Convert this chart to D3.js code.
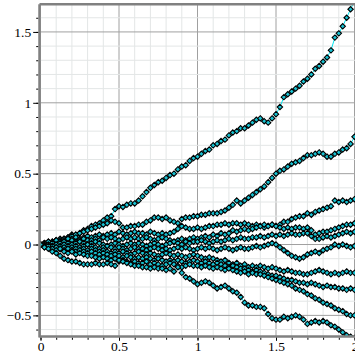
<!DOCTYPE html>
<html>
<head>
<meta charset="utf-8">
<script src="https://cdn.jsdelivr.net/npm/d3@7"></script>
<style>
	html, body { margin: 0; padding: 0; background: white; }
	svg { display: block; }
</style>
</head>
<body>
<svg id="chart"></svg>
<script>
const width = 355;
const height = 355;

// sample grid: 81 points, step 0.025 from 0 to 2
const tStep = 0.025;
const xTicks = [0, 0.5, 1, 1.5, 2];
const yTicks = [-0.5, 0, 0.5, 1, 1.5];

// series values, one array per path
const seriesA = [0, 0.01, 0.02, 0.015, 0.03, 0.04, 0.035, 0.05, 0.07, 0.065, 0.08, 0.10, 0.11, 0.13,
	0.14, 0.15, 0.17, 0.19, 0.2, 0.25, 0.27, 0.265, 0.28, 0.29, 0.29, 0.31, 0.34,
	0.37, 0.40, 0.42, 0.44, 0.45, 0.47, 0.49, 0.50, 0.53, 0.55, 0.56, 0.59, 0.61, 0.62,
	0.64, 0.66, 0.67, 0.70, 0.71, 0.73, 0.74, 0.77, 0.79, 0.80, 0.82, 0.82, 0.84,
	0.86, 0.88, 0.89, 0.87, 0.86, 0.89, 0.92, 0.97, 1.04, 1.06, 1.08, 1.10, 1.12,
	1.15, 1.17, 1.20, 1.24, 1.26, 1.29, 1.32, 1.37, 1.46, 1.49, 1.54, 1.60, 1.66, 1.72];
const seriesB = [0, 0.01, 0.0, 0.02, 0.03, 0.025, 0.04, 0.05, 0.06, 0.07, 0.08, 0.09, 0.10, 0.11,
	0.12, 0.13, 0.14, 0.15, 0.17, 0.16, 0.15, 0.12, 0.12, 0.13, 0.13, 0.14, 0.14,
	0.16, 0.17, 0.19, 0.19, 0.18, 0.19, 0.17, 0.16, 0.15, 0.18, 0.19, 0.19, 0.2, 0.2,
	0.21, 0.21, 0.22, 0.22, 0.22, 0.23, 0.24, 0.26, 0.28, 0.31, 0.29, 0.31, 0.33,
	0.35, 0.37, 0.39, 0.41, 0.44, 0.47, 0.50, 0.52, 0.53, 0.55, 0.57, 0.58, 0.59,
	0.61, 0.63, 0.63, 0.64, 0.65, 0.64, 0.62, 0.62, 0.64, 0.65, 0.67, 0.68, 0.71, 0.76];
const seriesC = [0, -0.01, 0.01, 0.02, 0.01, 0.03, 0.04, 0.03, 0.04, 0.05, 0.04, 0.05, 0.06, 0.05,
	0.06, 0.07, 0.06, 0.07, 0.08, 0.07, 0.09, 0.08, 0.07, 0.08, 0.09, 0.08, 0.08,
	0.07, 0.09, 0.08, 0.07, 0.08, 0.07, 0.08, 0.09, 0.11, 0.13, 0.12, 0.11, 0.11, 0.12,
	0.11, 0.12, 0.13, 0.13, 0.14, 0.14, 0.15, 0.14, 0.15, 0.15, 0.14, 0.15, 0.14,
	0.13, 0.14, 0.13, 0.12, 0.13, 0.14, 0.13, 0.14, 0.16, 0.16, 0.18, 0.19, 0.20,
	0.20, 0.22, 0.21, 0.23, 0.24, 0.25, 0.26, 0.27, 0.31, 0.30, 0.31, 0.30, 0.31, 0.32];
const seriesD = [0, 0.01, 0.02, 0.01, 0.03, 0.02, 0.03, 0.04, 0.03, 0.02, 0.03, 0.04, 0.03, 0.03,
	0.04, 0.03, 0.05, 0.04, 0.05, 0.04, 0.03, 0.04, 0.05, 0.04, 0.05, 0.04, 0.04,
	0.05, 0.04, 0.03, 0.04, 0.05, 0.04, 0.03, 0.02, 0.03, 0.04, 0.03, 0.04, 0.05, 0.04,
	0.05, 0.06, 0.05, 0.07, 0.06, 0.08, 0.07, 0.08, 0.10, 0.09, 0.10, 0.11, 0.10,
	0.11, 0.12, 0.13, 0.14, 0.13, 0.14, 0.13, 0.12, 0.11, 0.12, 0.11, 0.12, 0.12,
	0.11, 0.12, 0.10, 0.07, 0.08, 0.09, 0.09, 0.10, 0.11, 0.12, 0.13, 0.14, 0.14, 0.15];
const seriesE = [0, 0.0, -0.01, 0.01, 0.0, 0.01, 0.02, 0.01, 0.0, 0.01, 0.02, 0.01, 0.0, 0.01,
	0.02, 0.01, 0.0, -0.01, 0.0, 0.01, 0.0, -0.01, 0.0, 0.01, 0.0, 0.01, 0.0,
	-0.01, 0.0, 0.01, 0.0, -0.01, 0.0, 0.01, 0.02, 0.01, 0.0, 0.02, 0.01, 0.02, 0.02,
	0.03, 0.02, 0.01, 0.02, 0.03, 0.02, 0.03, 0.04, 0.03, 0.04, 0.05, 0.04, 0.04,
	0.05, 0.05, 0.06, 0.05, 0.06, 0.07, 0.06, 0.07, 0.06, 0.07, 0.08, 0.07, 0.07,
	0.08, 0.08, 0.06, 0.04, 0.04, 0.05, 0.06, 0.05, 0.06, 0.07, 0.08, 0.09, 0.08, 0.09];
const seriesF = [0, -0.01, 0.0, -0.01, -0.02, -0.01, 0.0, -0.01, -0.02, -0.01, -0.02, -0.01, 0.0, -0.01,
	-0.02, -0.03, -0.02, -0.01, -0.02, -0.03, -0.02, -0.03, -0.04, -0.03, -0.02, -0.03, -0.03,
	-0.04, -0.03, -0.02, -0.03, -0.04, -0.03, -0.04, -0.03, -0.02, -0.03, -0.02, -0.03, -0.04, -0.03,
	-0.02, -0.03, -0.02, -0.03, -0.04, -0.03, -0.02, -0.03, -0.04, -0.03, -0.02, -0.03, -0.03,
	-0.02, -0.01, -0.02, -0.01, 0.0, 0.01, 0.0, -0.02, -0.04, -0.06, -0.08, -0.09, -0.10,
	-0.09, -0.07, -0.06, -0.05, -0.06, -0.04, -0.03, -0.02, 0.0, -0.01, 0.0, -0.01, -0.02, -0.01];
const seriesG = [0, -0.01, -0.02, -0.01, -0.02, -0.03, -0.02, -0.03, -0.04, -0.03, -0.04, -0.03, -0.04, -0.03,
	-0.04, -0.05, -0.04, -0.05, -0.06, -0.05, -0.06, -0.05, -0.06, -0.07, -0.06, -0.05, -0.06,
	-0.07, -0.06, -0.07, -0.08, -0.07, -0.06, -0.07, -0.08, -0.07, -0.08, -0.09, -0.08, -0.07, -0.08,
	-0.09, -0.10, -0.09, -0.10, -0.11, -0.12, -0.11, -0.13, -0.14, -0.13, -0.15, -0.14, -0.16,
	-0.15, -0.16, -0.15, -0.16, -0.17, -0.16, -0.17, -0.18, -0.19, -0.18, -0.19, -0.20, -0.20,
	-0.21, -0.21, -0.20, -0.19, -0.18, -0.19, -0.20, -0.21, -0.20, -0.21, -0.20, -0.19, -0.20, -0.20];
const seriesH = [0, -0.01, -0.02, -0.03, -0.02, -0.03, -0.04, -0.03, -0.04, -0.05, -0.04, -0.05, -0.06, -0.05,
	-0.06, -0.07, -0.06, -0.07, -0.08, -0.07, -0.08, -0.09, -0.08, -0.09, -0.10, -0.09, -0.10,
	-0.09, -0.10, -0.11, -0.10, -0.11, -0.12, -0.11, -0.12, -0.11, -0.12, -0.13, -0.12, -0.11, -0.12,
	-0.13, -0.12, -0.13, -0.14, -0.13, -0.14, -0.15, -0.16, -0.15, -0.16, -0.17, -0.17, -0.18,
	-0.19, -0.18, -0.19, -0.20, -0.21, -0.22, -0.22, -0.23, -0.24, -0.25, -0.25, -0.26, -0.27,
	-0.27, -0.28, -0.27, -0.28, -0.29, -0.30, -0.29, -0.30, -0.30, -0.31, -0.31, -0.32, -0.31, -0.32];
const seriesI = [0, -0.02, -0.01, -0.03, -0.04, -0.03, -0.05, -0.06, -0.05, -0.07, -0.06, -0.07, -0.08, -0.08,
	-0.09, -0.10, -0.09, -0.10, -0.11, -0.10, -0.12, -0.11, -0.12, -0.13, -0.12, -0.13, -0.13,
	-0.12, -0.14, -0.13, -0.14, -0.15, -0.14, -0.13, -0.14, -0.15, -0.16, -0.15, -0.14, -0.15, -0.15,
	-0.16, -0.15, -0.16, -0.17, -0.16, -0.17, -0.18, -0.17, -0.18, -0.19, -0.20, -0.19, -0.21,
	-0.20, -0.21, -0.21, -0.22, -0.23, -0.24, -0.25, -0.26, -0.27, -0.28, -0.29, -0.31, -0.32,
	-0.33, -0.35, -0.36, -0.38, -0.39, -0.41, -0.42, -0.43, -0.45, -0.46, -0.47, -0.49, -0.50, -0.50];
const seriesJ = [0, -0.02, -0.03, -0.05, -0.06, -0.08, -0.10, -0.11, -0.12, -0.12, -0.13, -0.14, -0.14, -0.14,
	-0.13, -0.14, -0.14, -0.13, -0.14, -0.15, -0.11, -0.12, -0.13, -0.14, -0.15, -0.15, -0.16,
	-0.16, -0.17, -0.16, -0.17, -0.17, -0.18, -0.17, -0.19, -0.16, -0.20, -0.23, -0.24, -0.26, -0.28,
	-0.27, -0.26, -0.27, -0.29, -0.31, -0.30, -0.29, -0.31, -0.33, -0.34, -0.37, -0.41, -0.43,
	-0.43, -0.44, -0.44, -0.45, -0.49, -0.52, -0.53, -0.53, -0.51, -0.52, -0.51, -0.50, -0.51,
	-0.53, -0.56, -0.55, -0.54, -0.55, -0.54, -0.55, -0.57, -0.58, -0.60, -0.62, -0.64, -0.65, -0.66];

const allSeries = [seriesA, seriesB, seriesC, seriesD, seriesE, seriesF, seriesG, seriesH, seriesI, seriesJ];

const plotLeft = 40.5, plotRight = 354.5, plotTop = 4.3, plotBottom = 336.5;

const x = d3.scaleLinear().domain([0, 2]).range([plotLeft, plotRight]);
const y = d3.scaleLinear().domain([-0.649, 1.695]).range([plotBottom, plotTop]);

const svg = d3.select("#chart").attr("width", width).attr("height", height);

svg.append("defs")
	.append("clipPath")
	.attr("id", "plotClip")
	.append("rect")
	.attr("x", plotLeft)
	.attr("y", plotTop)
	.attr("width", plotRight - plotLeft + 5)
	.attr("height", plotBottom - plotTop);

// grid
const grid = svg.append("g");
const minorX = d3.range(0, 21).map((i) => i / 10);
const minorY = d3.range(-6, 17).map((i) => i / 10);
const isMajor = (d) => Math.abs(d * 2 - Math.round(d * 2)) < 1e-6;

grid.selectAll("line.mx")
	.data(minorX)
	.enter()
	.append("line")
	.attr("x1", (d) => x(d))
	.attr("x2", (d) => x(d))
	.attr("y1", plotTop)
	.attr("y2", plotBottom)
	.attr("stroke", (d) => (isMajor(d) ? "#a0a0a0" : "#e3e6e6"))
	.attr("stroke-width", 1);

grid.selectAll("line.my")
	.data(minorY)
	.enter()
	.append("line")
	.attr("x1", plotLeft)
	.attr("x2", plotRight + 5)
	.attr("y1", (d) => y(d))
	.attr("y2", (d) => y(d))
	.attr("stroke", (d) => (isMajor(d) ? "#a0a0a0" : "#e3e6e6"))
	.attr("stroke-width", 1);

// series
const plot = svg.append("g").attr("clip-path", "url(#plotClip)");
const line = d3.line()
	.x((d, i) => x(i * tStep))
	.y((d) => y(d));

plot.selectAll("path.walk")
	.data(allSeries)
	.enter()
	.append("path")
	.attr("class", "walk")
	.attr("d", line)
	.attr("fill", "none")
	.attr("stroke", "#00e4ee")
	.attr("stroke-width", 1);

const diamond = "M0,-2.7L2.7,0L0,2.7L-2.7,0Z";

allSeries.forEach((s) => {
	plot.append("g")
		.selectAll("path")
		.data(s)
		.enter()
		.append("path")
		.attr("d", diamond)
		.attr("transform", (d, i) => "translate(" + x(i * tStep) + "," + y(d) + ")")
		.attr("fill", "#18c2d2")
		.attr("stroke", "#000")
		.attr("stroke-width", 1.1);
});

// frame
const frame = svg.append("g").attr("stroke", "#808080").attr("stroke-width", 2.5).attr("fill", "none");
frame.append("line").attr("x1", plotLeft - 1).attr("x2", width).attr("y1", plotTop).attr("y2", plotTop);
frame.append("line").attr("x1", plotLeft - 1).attr("x2", width).attr("y1", plotBottom).attr("y2", plotBottom);
frame.append("line").attr("x1", plotLeft - 1).attr("x2", plotLeft - 1).attr("y1", plotTop).attr("y2", plotBottom + 1);

// ticks
const fmt = (d) => (d < 0 ? "\u2212" + Math.abs(d) : String(d));

const yAxis = d3.axisLeft(y)
	.tickValues(minorY.filter((d) => d >= -0.6))
	.tickSize(2)
	.tickFormat("");
svg.append("g")
	.attr("transform", "translate(" + (plotLeft - 2.3) + ",0)")
	.call(yAxis)
	.call((g) => g.select(".domain").remove())
	.call((g) => g.selectAll(".tick line").attr("stroke", "#000"));

const yMajor = d3.axisLeft(y).tickValues(yTicks).tickSize(5).tickFormat(fmt).tickPadding(2);
svg.append("g")
	.attr("transform", "translate(" + (plotLeft - 2.3) + ",0)")
	.call(yMajor)
	.call((g) => g.select(".domain").remove())
	.call((g) => g.selectAll(".tick line").attr("stroke", "#000"))
	.call((g) => g.selectAll("text")
		.attr("font-family", "'Liberation Serif', serif")
		.attr("font-size", 13.5)
		.attr("fill", "#000"));

const xAxis = d3.axisBottom(x)
	.tickValues(minorX)
	.tickSize(2)
	.tickFormat("");
svg.append("g")
	.attr("transform", "translate(0," + (plotBottom + 1.3) + ")")
	.call(xAxis)
	.call((g) => g.select(".domain").remove())
	.call((g) => g.selectAll(".tick line").attr("stroke", "#000"));

const xMajor = d3.axisBottom(x).tickValues(xTicks).tickSize(3).tickFormat(fmt).tickPadding(1);
svg.append("g")
	.attr("transform", "translate(0," + (plotBottom + 1.3) + ")")
	.call(xMajor)
	.call((g) => g.select(".domain").remove())
	.call((g) => g.selectAll(".tick line").attr("stroke", "#000"))
	.call((g) => g.selectAll("text")
		.attr("font-family", "'Liberation Serif', serif")
		.attr("font-size", 13.5)
		.attr("fill", "#000"));
</script>
</body>
</html>
